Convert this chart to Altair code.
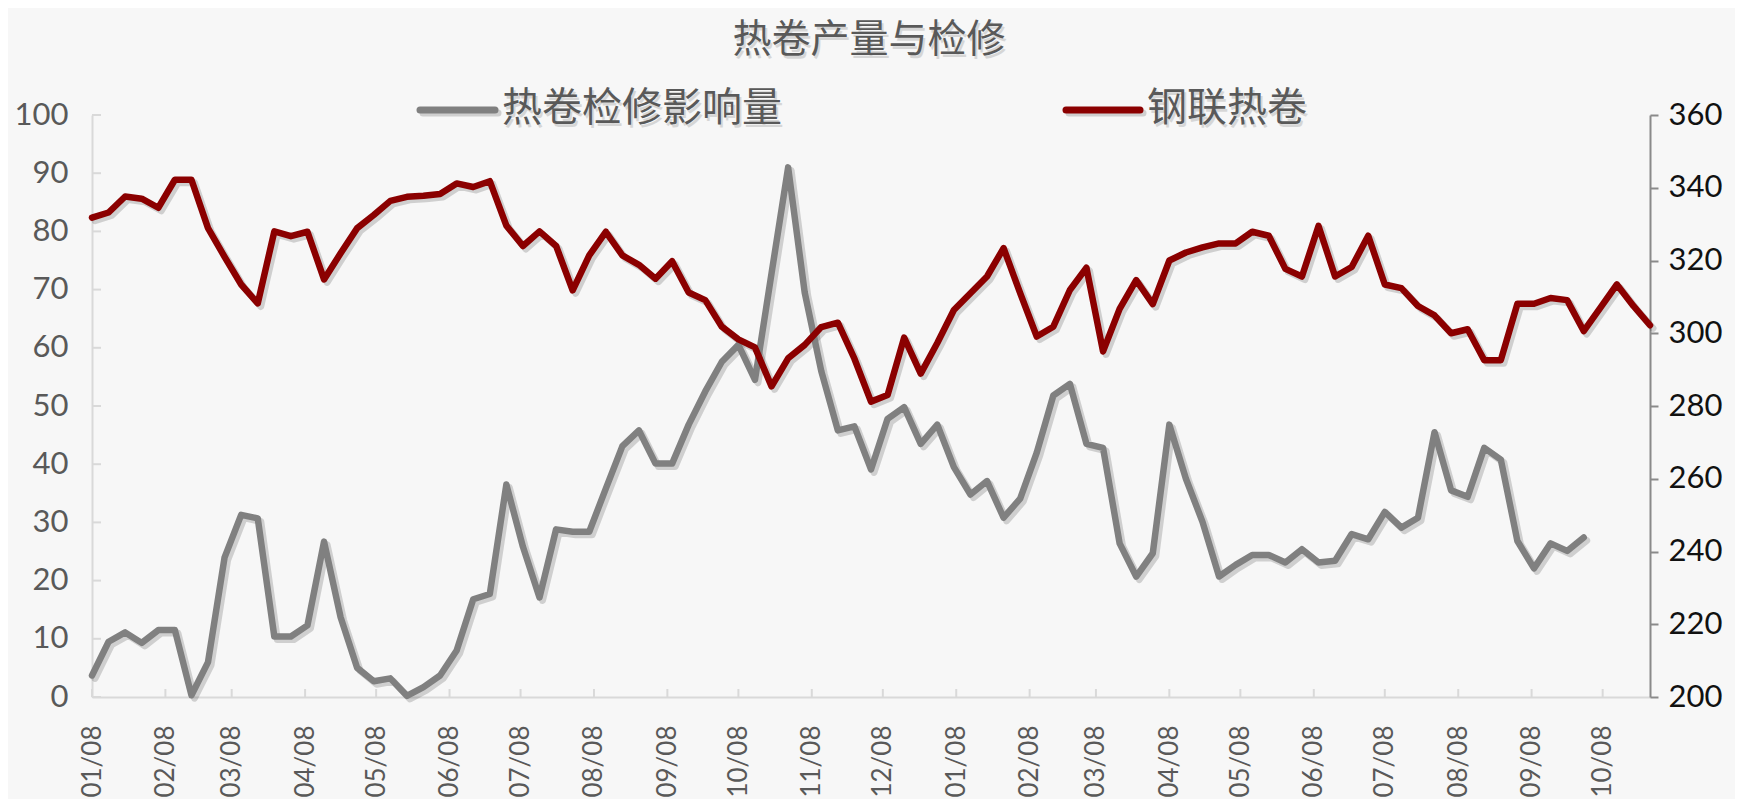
import altair as alt
import pandas as pd

# ---------------- data ----------------
title_text = "热卷产量与检修"
gray_name = "热卷检修影响量"
red_name = "钢联热卷"

start_date = "2018-01-08"

# 钢联热卷 (right axis), weekly
red_vals = [331.8, 333.2, 337.6, 337.0, 334.5, 342.2, 342.2, 328.9, 321.0, 313.4,
            308.2, 328.0, 326.7, 327.9, 314.8, 322.0, 328.9, 332.5, 336.4, 337.5,
            337.8, 338.3, 341.2, 340.2, 341.8, 329.6, 324.0, 328.0, 324.0, 311.8,
            321.4, 327.9, 321.4, 318.8, 315.0, 319.8, 311.2, 309.1, 301.8, 298.3,
            296.1, 285.4, 293.1, 296.8, 301.7, 302.9, 293.0, 281.2, 283.0, 298.8,
            288.9, 297.3, 306.4, 311.0, 315.6, 323.4, 311.0, 299.1, 301.8, 311.9,
            318.0, 295.0, 306.7, 314.6, 308.0, 320.0, 322.2, 323.6, 324.7, 324.7,
            327.9, 326.8, 317.7, 315.6, 329.5, 315.6, 318.2, 326.8, 313.4, 312.4,
            307.5, 304.9, 300.0, 301.1, 292.6, 292.6, 308.1, 308.1, 309.7, 309.1,
            300.6, 307.0, 313.4, 307.5, 302.2]

# 热卷检修影响量 (left axis), weekly
gray_vals = [3.7, 9.5, 11.1, 9.3, 11.5, 11.5, 0.3, 6.0, 24.0, 31.3,
             30.7, 10.4, 10.4, 12.3, 26.7, 13.7, 5.0, 2.7, 3.2, 0.2,
             1.7, 3.7, 8.0, 16.8, 17.7, 36.5, 25.8, 17.1, 28.8, 28.4,
             28.4, 35.8, 43.1, 45.8, 40.1, 40.1, 46.8, 52.5, 57.6, 60.5,
             54.5, 72.8, 91.0, 69.5, 56.0, 45.8, 46.5, 39.1, 47.8, 49.8,
             43.5, 46.8, 39.5, 34.8, 37.1, 30.8, 34.1, 42.0, 51.8, 53.8,
             43.5, 42.8, 26.4, 20.7, 24.7, 46.8, 37.5, 30.1, 20.7, 22.7,
             24.4, 24.4, 23.1, 25.4, 23.1, 23.4, 28.0, 27.1, 31.8, 29.1,
             30.8, 45.5, 35.5, 34.4, 42.8, 40.8, 26.8, 22.1, 26.4, 25.1,
             27.4]

# x tick dates (the 8th of every month)
tick_dates = ["2018-01-08", "2018-02-08", "2018-03-08", "2018-04-08", "2018-05-08",
              "2018-06-08", "2018-07-08", "2018-08-08", "2018-09-08", "2018-10-08",
              "2018-11-08", "2018-12-08", "2019-01-08", "2019-02-08", "2019-03-08",
              "2019-04-08", "2019-05-08", "2019-06-08", "2019-07-08", "2019-08-08",
              "2019-09-08", "2019-10-08"]

left_ticks = [0, 10, 20, 30, 40, 50, 60, 70, 80, 90, 100]
right_ticks = [200, 220, 240, 260, 280, 300, 320, 340, 360]

# ---------------- tables ----------------
red_dates = pd.date_range(start_date, periods=len(red_vals), freq="7D")
gray_dates = pd.date_range(start_date, periods=len(gray_vals), freq="7D")
df_red = pd.DataFrame({"date": red_dates.strftime("%Y-%m-%d"), "v": red_vals})
df_gray = pd.DataFrame({"date": gray_dates.strftime("%Y-%m-%d"), "v": gray_vals})
df_xt = pd.DataFrame({"date": tick_dates})
df_lt = pd.DataFrame({"t": left_ticks})


def ms(s):
    return int(pd.Timestamp(s).value // 10**6)


x_domain = [ms(red_dates[0]), ms(red_dates[-1])]
tick_ms = [ms(d) for d in tick_dates]

W, H = 1558, 582
SH = 3  # shadow offset in px
LABEL_FONT = "Lato"
CJK = "Noto Sans CJK SC"
GRAY = "#808080"
RED = "#8b0000"
TXT = "#595959"
BG = "#f7f7f7"

x_scale = alt.Scale(type="utc", domain=x_domain)
x_scale_sh = alt.Scale(type="utc", domain=x_domain, range=[SH, W + SH])
x_axis = alt.Axis(values=tick_ms, format="%m/%d", labelAngle=270, labelFont=LABEL_FONT,
                  labelFontSize=26, labelColor=TXT, domainColor="#d9d9d9", domainWidth=2,
                  ticks=False, labelPadding=28, grid=False, title=None,
                  labelOverlap=False, labelFlush=False)

# drop shadows of the two lines
gray_shadow = alt.Chart(df_gray).mark_line(
    color="#000000", opacity=0.16, strokeWidth=7, strokeJoin="round", strokeCap="round"
).encode(
    x=alt.X("date:T", scale=x_scale_sh, axis=None),
    y=alt.Y("v:Q", scale=alt.Scale(domain=[0, 100], nice=False, range=[H + SH, SH]), axis=None),
)
red_shadow = alt.Chart(df_red).mark_line(
    color="#000000", opacity=0.16, strokeWidth=7, strokeJoin="round", strokeCap="round"
).encode(
    x=alt.X("date:T", scale=x_scale_sh, axis=None),
    y=alt.Y("v:Q", scale=alt.Scale(domain=[200, 360], nice=False, range=[H + SH, SH]), axis=None),
)

gray_line = alt.Chart(df_gray).mark_line(
    color=GRAY, strokeWidth=6.5, strokeJoin="round", strokeCap="round"
).encode(
    x=alt.X("date:T", scale=x_scale, axis=x_axis),
    y=alt.Y("v:Q", scale=alt.Scale(domain=[0, 100], nice=False),
            axis=alt.Axis(orient="left", values=left_ticks, labelFont=LABEL_FONT,
                          labelFontSize=31, labelColor=TXT, domainColor="#d9d9d9",
                          domainWidth=2, ticks=False, labelPadding=24, grid=False,
                          title=None)),
)

red_line = alt.Chart(df_red).mark_line(
    color=RED, strokeWidth=6.5, strokeJoin="round", strokeCap="round"
).encode(
    x=alt.X("date:T", scale=x_scale, axis=None),
    y=alt.Y("v:Q", scale=alt.Scale(domain=[200, 360], nice=False),
            axis=alt.Axis(orient="right", values=right_ticks, labelFont=LABEL_FONT,
                          labelFontSize=31, labelColor="#111111", domainColor="#8a8a8a",
                          domainWidth=2, tickColor="#8a8a8a", tickWidth=2, tickSize=8,
                          labelPadding=10, grid=False, title=None)),
)

# inside tick marks on the left axis
left_tick_marks = alt.Chart(df_lt).mark_rule(color="#d9d9d9", strokeWidth=2).encode(
    y=alt.Y("t:Q", scale=alt.Scale(domain=[0, 100], nice=False), axis=None),
    x=alt.value(0), x2=alt.value(9),
)

# inside tick marks on the bottom axis
bottom_tick_marks = alt.Chart(df_xt).mark_rule(color="#d9d9d9", strokeWidth=2).encode(
    x=alt.X("date:T", scale=x_scale, axis=None),
    y=alt.value(H - 8), y2=alt.value(H),
)

one = pd.DataFrame({"k": [0]})


def label(text, x, y, align, size=40, color=TXT):
    shadow = alt.Chart(one).mark_text(
        text=text, font=CJK, fontSize=size, color="#000000", opacity=0.13,
        align=align, baseline="middle", dx=2, dy=3
    ).encode(x=alt.value(x), y=alt.value(y))
    main = alt.Chart(one).mark_text(
        text=text, font=CJK, fontSize=size, color=color, align=align, baseline="middle"
    ).encode(x=alt.value(x), y=alt.value(y))
    return [shadow, main]


def legend_line(x1, x2, color):
    sh = alt.Chart(one).mark_rule(color="#000000", opacity=0.16, strokeWidth=7,
                                  strokeCap="round").encode(
        x=alt.value(x1 + SH), x2=alt.value(x2 + SH), y=alt.value(-5 + SH))
    ln = alt.Chart(one).mark_rule(color=color, strokeWidth=7, strokeCap="round").encode(
        x=alt.value(x1), x2=alt.value(x2), y=alt.value(-5))
    return [sh, ln]


layers = [left_tick_marks, bottom_tick_marks, gray_shadow, red_shadow, gray_line, red_line]
layers += label(title_text, W / 2 - 2, -75, "center", size=39)
layers += legend_line(328, 403, GRAY)
layers += label(gray_name, 410, -6, "left")
layers += legend_line(974, 1048, RED)
layers += label(red_name, 1055, -6, "left")

chart = alt.layer(*layers).resolve_scale(x="independent", y="independent").properties(
    width=W, height=H,
    autosize=alt.AutoSizeParams(type="none"),
    padding={"left": 84, "top": 107, "right": 85, "bottom": 102},
    background=BG,
).configure_view(stroke=None)

chart.save("out.html", embed_options={"renderer": "svg", "actions": False})
